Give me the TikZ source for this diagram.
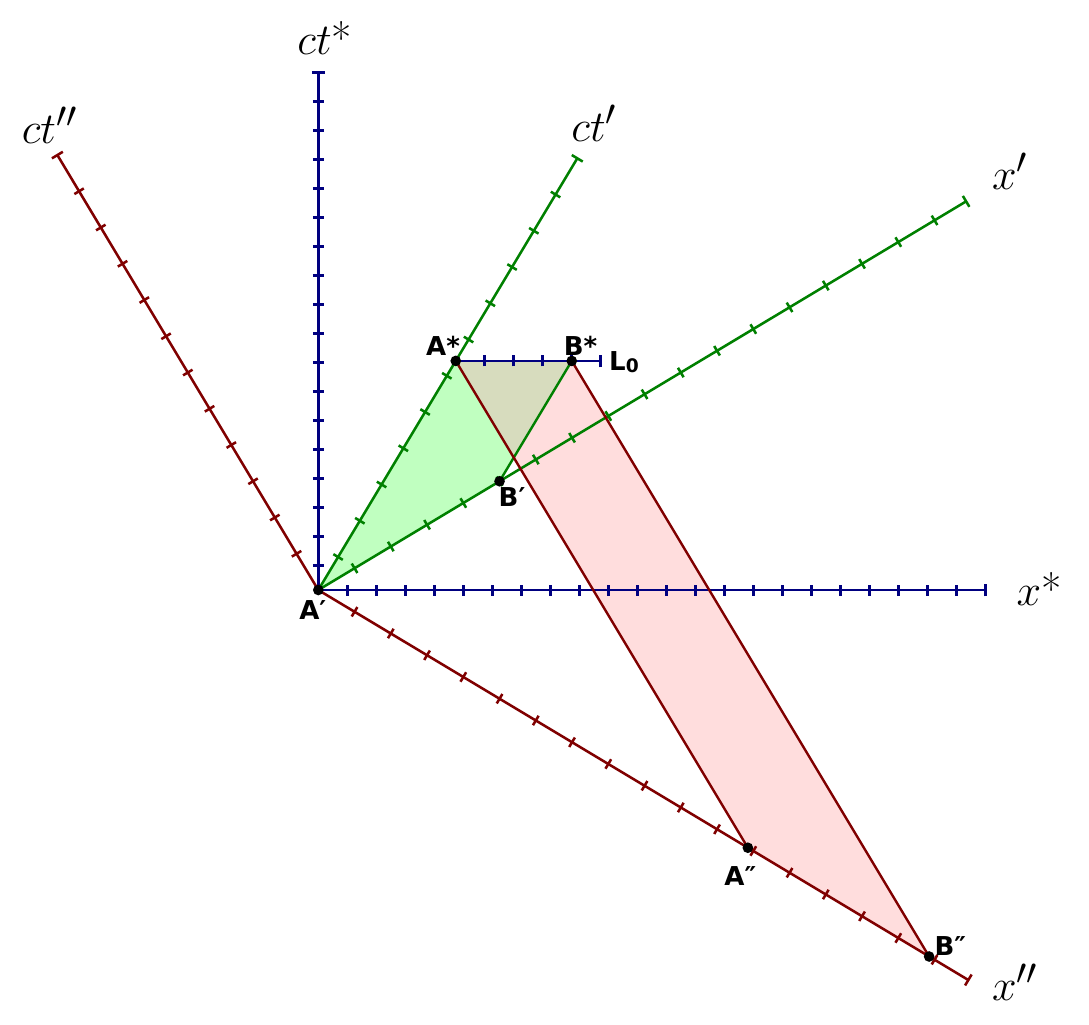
\documentclass[tikz,border=0pt]{standalone}
\usepackage{fontspec}
\usepackage{graphicx}
\usepackage{tikz}
\newfontfamily\ptfont{DejaVu Sans}
\newcommand{\axtext}[1]{\scalebox{1.33}{#1}}
\definecolor{axblue}{RGB}{0,0,128}
\definecolor{axgreen}{RGB}{0,128,0}
\definecolor{axred}{RGB}{128,0,0}
\definecolor{fillgreen}{RGB}{192,255,192}
\definecolor{fillred}{RGB}{255,221,221}
\definecolor{filloverlap}{RGB}{215,220,190}

\begin{document}
\begin{tikzpicture}[x=21.75pt,y=21.75pt,
	axis/.style={line width=1.9pt},
	edge/.style={line width=1.8pt},
	dot/.style={circle,fill=black,inner sep=0pt,minimum size=8pt},
	ptlabel/.style={anchor=base,inner sep=0pt,font=\ptfont\bfseries\fontsize{19.5}{23}\selectfont},
	axlabel/.style={anchor=base,inner sep=0pt,font=\fontsize{24.88}{30}\selectfont}]
	\useasboundingbox (-10.976,-14.966) rectangle (26.576,20.345);

	%events
	\coordinate (Ap)  at (0,0);				%A'
	\coordinate (As)  at (4.74,7.9);		%A*
	\coordinate (Bs)  at (8.74,7.9);		%B*
	\coordinate (Lend) at (9.74,7.9);		%end of L0
	\coordinate (Bp)  at (6.25,3.75);		%B'
	\coordinate (App) at (14.8125,-8.8875);	%A''
	\coordinate (Bpp) at (21.0625,-12.6375);%B''

	%areas
	\fill[fillred]   (As)--(Bs)--(Bpp)--(App)--cycle;
	\fill[fillgreen] (Ap)--(As)--(Bs)--(Bp)--cycle;
	\begin{scope}
		\clip (As)--(Bs)--(Bpp)--(App)--cycle;
		\fill[filloverlap] (Ap)--(As)--(Bs)--(Bp)--cycle;
	\end{scope}

	%frame * (blue)
	\draw[axis,axblue] (Ap)--(23,0);								%x*
	\foreach \k in {1,...,22} \draw[axis,axblue] (\k,-0.19)--(\k,0.19);
	\draw[axis,axblue] (23,-0.22)--(23,0.22);
	\draw[axis,axblue] (Ap)--(0,17.85);								%ct*
	\foreach \k in {0,...,16} \draw[axis,axblue] (-0.19,0.85+\k)--(0.19,0.85+\k);
	\draw[axis,axblue] (-0.22,17.85)--(0.22,17.85);
	\draw[axis,axblue] (As)--(Lend);								%L0
	\foreach \k in {1,...,4} \draw[axis,axblue] ([xshift=\k*21.75pt]As)++(0,-0.19)--++(0,0.38);
	\draw[axis,axblue] (Lend)++(0,-0.22)--++(0,0.44);

	%frame ' (green)
	\begin{scope}[rotate=59.04]										%ct'
		\draw[axis,axgreen] (0,0)--(17.36,0);
		\foreach \k [evaluate=\k as \t using (0.91+\k)*1.4577] in {0,...,10}
			\draw[axis,axgreen] (\t,-0.19)--(\t,0.19);
		\draw[axis,axgreen] (17.36,-0.22)--(17.36,0.22);
	\end{scope}
	\begin{scope}[rotate=30.96]										%x'
		\draw[axis,axgreen] (0,0)--(26.05,0);
		\foreach \k [evaluate=\k as \t using \k*1.4577] in {1,...,17}
			\draw[axis,axgreen] (\t,-0.19)--(\t,0.19);
		\draw[axis,axgreen] (26.05,-0.22)--(26.05,0.22);
	\end{scope}

	%frame '' (red)
	\begin{scope}[rotate=120.96]									%ct''
		\draw[axis,axred] (0,0)--(17.49,0);
		\foreach \k [evaluate=\k as \t using \k*1.4577] in {1,...,11}
			\draw[axis,axred] (\t,-0.19)--(\t,0.19);
		\draw[axis,axred] (17.49,-0.22)--(17.49,0.22);
	\end{scope}
	\begin{scope}[rotate=-30.96]									%x''
		\draw[axis,axred] (0,0)--(26.14,0);
		\foreach \k [evaluate=\k as \t using \k*1.4577] in {1,...,17}
			\draw[axis,axred] (\t,-0.19)--(\t,0.19);
		\draw[axis,axred] (26.14,-0.22)--(26.14,0.22);
	\end{scope}

	%world lines
	\draw[edge,axgreen] (Bs)--(Bp);
	\draw[edge,axred] (As)--(App);
	\draw[edge,axred] (Bs)--(Bpp);

	%points
	\foreach \p in {Ap,As,Bs,Bp,App,Bpp} \node[dot] at (\p) {};

	%labels
	\node[ptlabel] (lAs)  at (4.30,8.10)   {A*};
	\node[ptlabel] (lBs)  at (9.04,8.10)   {B*};
	\node[ptlabel] (lL)   at (10.54,7.56)  {L{\fontsize{14}{14}\selectfont\raisebox{-1pt}{0}}};
	\node[ptlabel] (lBp)  at (6.68,2.87)   {B′};
	\node[ptlabel] (lAp)  at (-0.19,-1.01) {A′};
	\node[ptlabel] (lApp) at (14.55,-10.20){A″};
	\node[ptlabel] (lBpp) at (21.79,-12.59){B″};
	%
	\node[axlabel] (lcts)  at (0.22,18.45)  {\axtext{$ct$*}};
	\node[axlabel] (lctpp) at (-9.27,15.41) {\axtext{$ct''$}};
	\node[axlabel] (lctp)  at (9.51,15.46)  {\axtext{$ct'$}};
	\node[axlabel] (lxp)   at (23.85,13.82) {\axtext{$x'$}};
	\node[axlabel] (lxs)   at (24.85,-0.52) {\axtext{$x$*}};
	\node[axlabel] (lxpp)  at (24.02,-14.14){\axtext{$x''$}};
\end{tikzpicture}
\end{document}
